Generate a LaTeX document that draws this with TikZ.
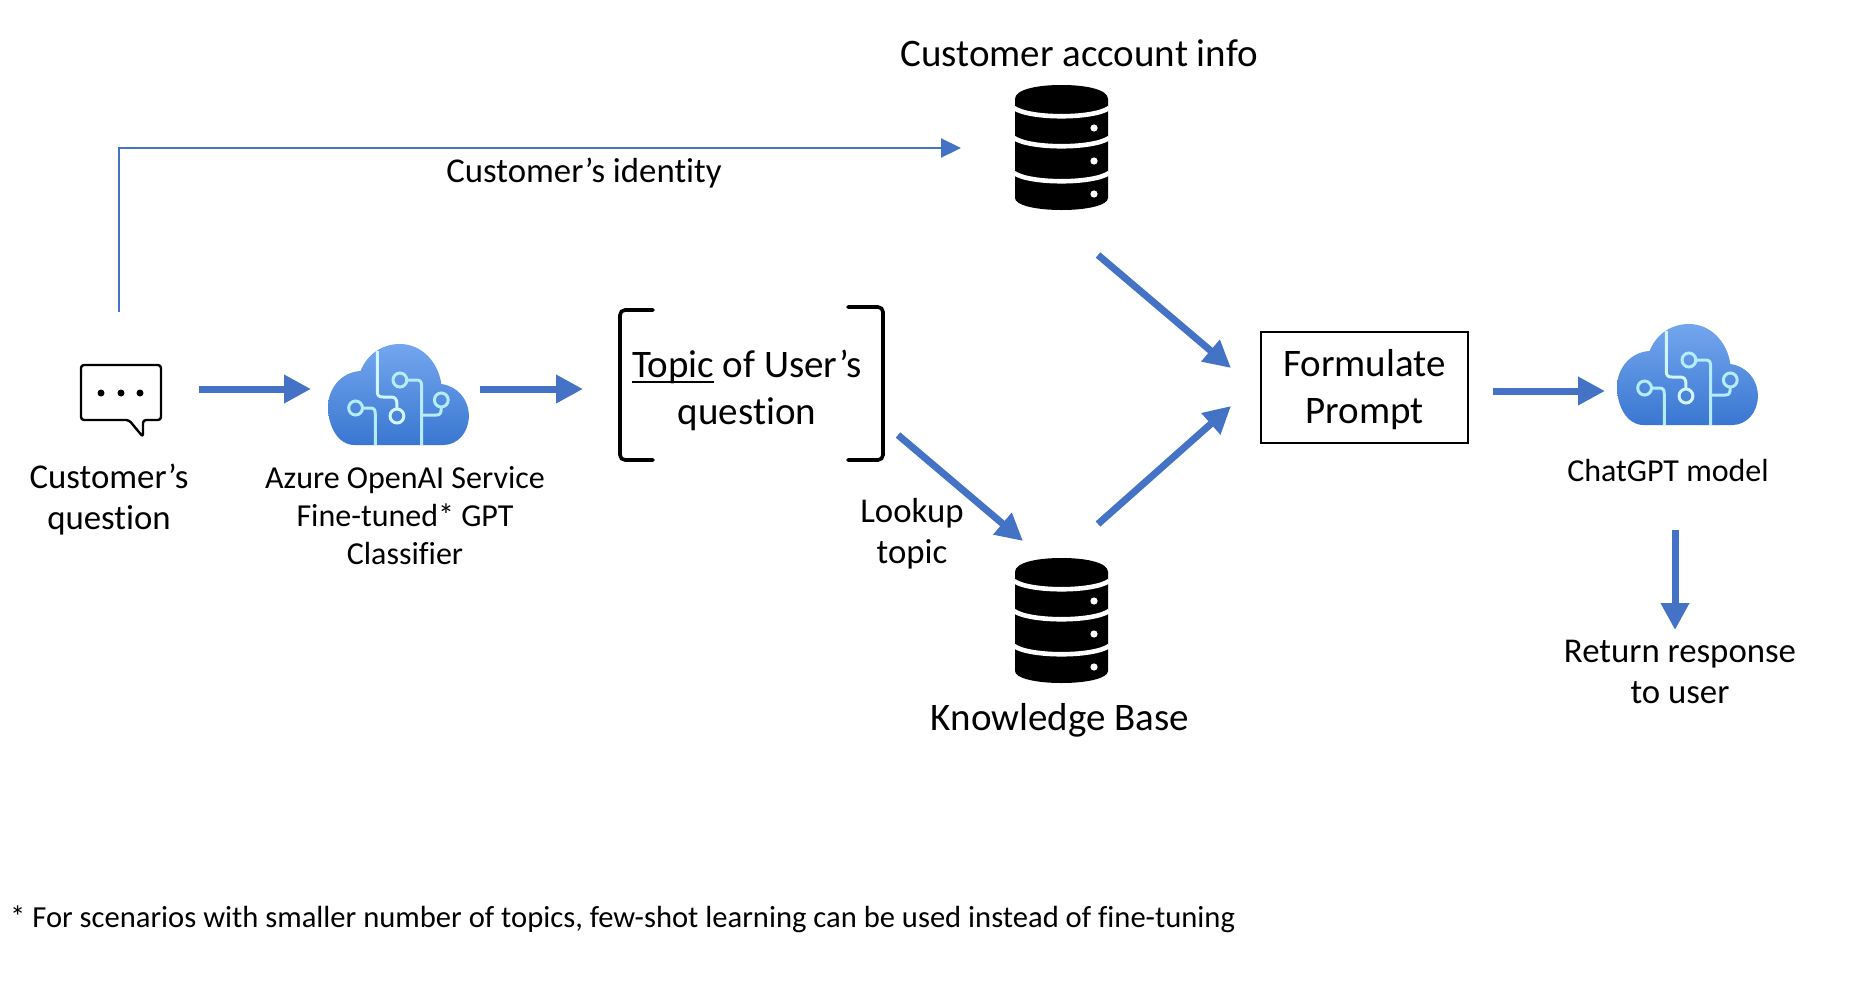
\documentclass[tikz,border=0pt]{standalone}
\usepackage{fontspec}
\setmainfont{Carlito}[Ligatures=NoCommon]
\usetikzlibrary{arrows.meta}
\definecolor{arrowblue}{HTML}{4472C4}
\definecolor{cloudtop}{HTML}{73A6EE}
\definecolor{cloudbot}{HTML}{3A77D1}
\definecolor{circuit}{HTML}{B4ECFB}
\newcommand{\topicword}{\setbox0\hbox{Topic}\rlap{\rule[-6pt]{\wd0}{2pt}}Topic}
\newcommand{\cloudicon}[2]{%
\begin{scope}[shift={(#1,#2)},x=0.985pt]
\shade[top color=cloudtop,bottom color=cloudbot]
 (27,101) .. controls (10,101) and (0,82) .. (0,63)
 .. controls (0,44) and (14,28) .. (33,27)
 .. controls (40,10) and (55,0) .. (73,0)
 .. controls (95,0) and (112,18) .. (115,40)
 .. controls (131,42) and (143,55) .. (143,72)
 .. controls (143,88) and (132,101) .. (117,101) -- cycle;
\begin{scope}[draw=circuit,line width=3pt]
\draw[draw=circuit!60!white] (50,7) -- (50,47) .. controls (50,52) and (52,53) .. (56,53) -- (64,53) .. controls (68,53) and (70,55) .. (70,60) -- (70,65);
\draw[draw=circuit!60!white] (70,72) circle[radius=7];
\draw (73,36) circle[radius=7];
\draw (80,36) -- (90,36) .. controls (94,36) and (95,38) .. (95,42) -- (95,101);
\draw (95,71) -- (110,71) .. controls (114,71) and (115,69) .. (115,63);
\draw (115,56) circle[radius=7];
\draw (28,64) circle[radius=7];
\draw (35,64) -- (43,64) .. controls (47,64) and (48,66) .. (48,70) -- (48,101);
\end{scope}
\end{scope}}
\newcommand{\dbicon}[2]{%
\begin{scope}[shift={(#1,#2)}]
\fill[black] (0,14) .. controls (0,5) and (20,0) .. (46.5,0) .. controls (73,0) and (93,5) .. (93,14)
 -- (93,113) .. controls (93,120) and (73,125) .. (46.5,125) .. controls (20,125) and (0,120) .. (0,113) -- cycle;
\foreach \yy in {23,53,88}{
 \draw[white,line width=4.6pt] (-1,\yy) .. controls (15,{\yy+11}) and (78,{\yy+11}) .. (94,\yy);
}
\foreach \yy in {43,76,109}{
 \fill[white] (79,\yy) circle[radius=3.6];
}
\end{scope}}
\tikzset{
  bigarrow/.style={arrowblue,line width=7pt,-{Triangle[length=27pt,width=27pt]}},
  thinarrow/.style={arrowblue,line width=2pt,-{Triangle[length=20pt,width=19pt]}},
  lbl/.style={inner sep=0pt,align=center,text=black},
  lbllg/.style={lbl,font=\fontsize{39}{47}\selectfont},
  lblmd/.style={lbl,font=\fontsize{34.8}{41}\selectfont},
  lblsm/.style={lbl,font=\fontsize{32}{38}\selectfont},
  lblft/.style={lbl,font=\fontsize{30.6}{38}\selectfont},
  bracketline/.style={draw=black,line width=3.6pt,rounded corners=5pt,line cap=round},
  promptbox/.style={draw=black,line width=2pt,minimum width=207pt,minimum height=111pt,inner sep=0pt}
}
\begin{document}
\begin{tikzpicture}[x=1pt,y=-1pt]
\useasboundingbox (0,0) rectangle (1851,985);
\fill[white] (0,0) rectangle (1851,985);

% chat bubble
\draw[black,line width=2.4pt,line join=round,rounded corners=3pt]
 (102,365) -- (161,365) -- (161,420) -- (143,420) -- (143,437) -- (129,420) -- (81,420) -- (81,365) -- cycle;
\foreach \xx in {101,121,140}{\fill[black] (\xx,393) circle[radius=3.5];}

\cloudicon{328}{344}
\cloudicon{1617}{324}
\dbicon{1015}{85}
\dbicon{1015}{558}

% brackets
\draw[bracketline] (653,310) -- (620,310) -- (620,460) -- (653,460);
\draw[bracketline] (848,307) -- (883,307) -- (883,460) -- (848,460);

% labels
\node[lbllg] (acct) at (1079,53) {Customer account info};
\node[lblmd] (ident) at (584,173) {Customer’s identity};
\node[lblmd] (cq) at (109,500) {Customer’s\\question};
\node[lblsm] (azure) at (405,516) {Azure OpenAI Service\\Fine-tuned* GPT\\Classifier};
\node[lbllg] (topic) at (747,390) {\topicword{} of User’s\\question};
\node[lblmd] (lookup) at (912,534) {Lookup\\topic};
\node[lbllg] (kb) at (1060,720) {Knowledge Base};
\node[promptbox] (prompt) at (1364.5,387.5) {};
\node[lbllg] (prompttext) at (1364.5,390) {Formulate\\Prompt};
\node[lblsm] (gptm) at (1668,471) {ChatGPT model};
\node[lblmd] (ret) at (1680,672) {Return response\\to user};
\node[lblft,anchor=west] (foot) at (10,919) {* For scenarios with smaller number of topics, few-shot learning can be used instead of fine-tuning};

% connector ends
\coordinate (a1s) at (199,389); \coordinate (a1e) at (311,389);
\coordinate (a2s) at (480,389); \coordinate (a2e) at (583,389);
\coordinate (a3s) at (1098,255); \coordinate (a3e) at (1231,368);
\coordinate (a4s) at (1098,524); \coordinate (a4e) at (1231,406);
\coordinate (a5s) at (898,435); \coordinate (a5e) at (1023,541);
\coordinate (a6s) at (1493,391); \coordinate (a6e) at (1605,391);
\coordinate (a7s) at (1675,530); \coordinate (a7e) at (1675,630);
\coordinate (t1s) at (119,312); \coordinate (t1e) at (961,148);

\draw[bigarrow] (a1s) -- (a1e);
\draw[bigarrow] (a2s) -- (a2e);
\draw[bigarrow] (a3s) -- (a3e);
\draw[bigarrow] (a4s) -- (a4e);
\draw[bigarrow] (a5s) -- (a5e);
\draw[bigarrow] (a6s) -- (a6e);
\draw[bigarrow] (a7s) -- (a7e);
\draw[thinarrow] (t1s) |- (t1e);
\end{tikzpicture}
\end{document}
